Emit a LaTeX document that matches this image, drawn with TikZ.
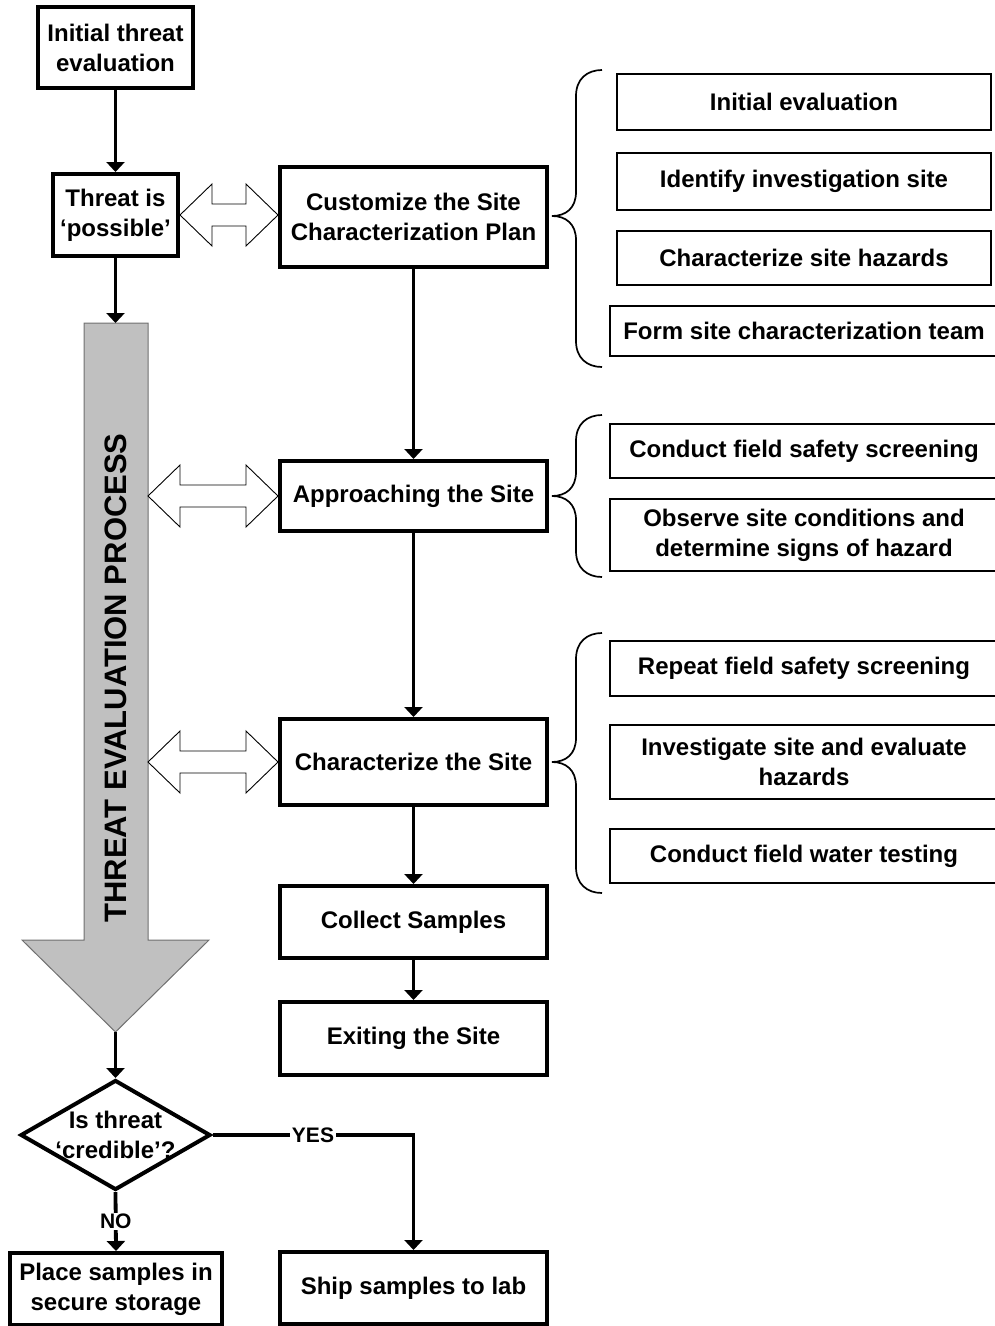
\documentclass[tikz,border=0pt]{standalone}
\usepackage{fontspec}
\setmainfont{Liberation Sans}
\usetikzlibrary{arrows.meta,shapes.geometric,calc}
\definecolor{procgray}{HTML}{C0C0C0}
\definecolor{procedge}{HTML}{707070}
\newcommand\dblarrow[2]{\draw[dbl] (#1) -- ++(32,-31) -- ++(0,20) -- ($(#2)+(-32,-11)$) -- ++(0,-20) -- (#2) -- ++(-32,31) -- ++(0,-20) -- ($(#1)+(32,11)$) -- ++(0,20) -- cycle;}
\newcommand\mybrace[3]{\draw[brc] (602,#2) .. controls (587,#2) and (576,#2+9) .. (576,#2+26) -- (576,#1-24) .. controls (576,#1-8) and (566,#1) .. (552,#1) .. controls (566,#1) and (576,#1+8) .. (576,#1+24) -- (576,#3-26) .. controls (576,#3-9) and (587,#3) .. (602,#3);}
\begin{document}
\begin{tikzpicture}[x=1pt,y=-1pt,
  txt/.style={font=\bfseries\fontsize{24}{30}\selectfont, align=center},
  mainbox/.style={draw, line width=4pt, txt, inner sep=0pt, fill=white},
  subbox/.style={draw, line width=2pt, txt, inner sep=0pt},
  flow/.style={line width=3.8pt, -{Triangle[width=18pt,length=10pt]}},
  dbl/.style={line width=0.9pt, fill=white, line join=miter},
  brc/.style={line width=1.7pt},
  lbl/.style={font=\bfseries\fontsize{21}{24}\selectfont, fill=white, inner sep=1.5pt}
]
\useasboundingbox (0,0) rectangle (994,1326);

% left column
\node[mainbox, minimum width=155pt, minimum height=81pt] (A) at (115.5,47.5) {Initial threat\\evaluation};
\node[mainbox, minimum width=125pt, minimum height=82pt] (B) at (115.5,215) {Threat is\\‘possible’};

% gray process arrow
\coordinate (ptop) at (115.5,323);
\coordinate (ptip) at (115.5,1032);
\coordinate (pR) at (148,0);
\draw[fill=procgray, draw=procedge, line width=1pt] (84,323) -- (148,323) -- (148,940) -- (209,940) -- (ptip) -- (22,940) -- (84,940) -- cycle;
\node[rotate=90, font=\bfseries\fontsize{31}{36}\selectfont] (proclbl) at (116,678) {THREAT EVALUATION PROCESS};

% main column
\node[mainbox, minimum width=267pt, minimum height=100pt] (C) at (413.5,217) {Customize the Site\\Characterization Plan};
\node[mainbox, minimum width=267pt, minimum height=70pt] (D) at (413.5,496) {Approaching the Site};
\node[mainbox, minimum width=267pt, minimum height=86pt] (E) at (413.5,762) {Characterize the Site};
\node[mainbox, minimum width=267pt, minimum height=72pt] (F) at (413.5,922) {Collect Samples};
\node[mainbox, minimum width=267pt, minimum height=73pt] (G) at (413.5,1038.5) {Exiting the Site};

% decision
\node[diamond, draw, line width=4pt, minimum width=190pt, minimum height=110pt, inner sep=0pt] (dia) at (115.5,1135) {};
\node[txt] (diatxt) at (dia.center) {Is threat\\‘credible’?};
\node[mainbox, minimum width=212pt, minimum height=72pt] (H) at (116,1289) {Place samples in\\secure storage};
\node[mainbox, minimum width=267pt, minimum height=72pt] (I) at (413.5,1288) {Ship samples to lab};

% sub boxes
\node[subbox, minimum width=374pt, minimum height=56pt] (s1) at (804,102) {Initial evaluation};
\node[subbox, minimum width=374pt, minimum height=57pt] (s2) at (804,181.5) {Identify investigation site};
\node[subbox, minimum width=374pt, minimum height=54pt] (s3) at (804,258) {Characterize site hazards};
\node[subbox, minimum width=388pt, minimum height=50pt] (s4) at (804,331) {Form site characterization team};
\node[subbox, minimum width=388pt, minimum height=54pt] (s5) at (804,451) {Conduct field safety screening};
\node[subbox, minimum width=388pt, minimum height=72pt] (s6) at (804,535) {Observe site conditions and\\determine signs of hazard};
\node[subbox, minimum width=388pt, minimum height=55pt] (s7) at (804,668.5) {Repeat field safety screening};
\node[subbox, minimum width=388pt, minimum height=74pt] (s8) at (804,762) {Investigate site and evaluate\\hazards};
\node[subbox, minimum width=388pt, minimum height=54pt] (s9) at (804,856) {Conduct field water testing};

% braces
\mybrace{216}{70}{367}
\mybrace{496}{415}{577}
\mybrace{762}{633}{893}

% double arrows
\coordinate (cB) at (C.west |- B.east);
\coordinate (gD) at (D.west -| pR);
\coordinate (gE) at (E.west -| pR);
\dblarrow{B.east}{cB}
\dblarrow{gD}{D.west}
\dblarrow{gE}{E.west}

% flow connectors
\draw[flow] (A.south) -- (B.north);
\draw[flow] (B.south) -- (ptop);
\draw[flow] (C.south) -- (D.north);
\draw[flow] (D.south) -- (E.north);
\draw[flow] (E.south) -- (F.north);
\draw[flow] (F.south) -- (G.north);
\draw[flow] (ptip) -- (dia.north);
\draw[flow] (dia.east) -| node[lbl, pos=0.25] {YES} (I.north);
\draw[flow] (dia.south) -- node[lbl] {NO} (H.north);
\end{tikzpicture}
\end{document}
